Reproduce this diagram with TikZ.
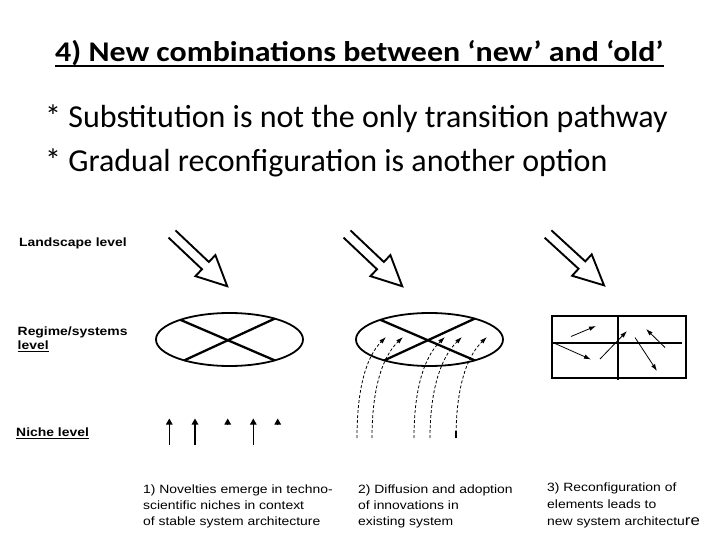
\documentclass[tikz,border=0pt]{standalone}
\usepackage{fontspec}
\setmainfont{Carlito}
\newfontfamily\titlef[FakeStretch=1.12]{Carlito}
\newfontfamily\capf[FakeStretch=1.16]{Liberation Sans}
\usetikzlibrary{shapes.geometric,arrows.meta,calc}
\tikzset{
  lbltext/.style={font=\capf\bfseries\fontsize{12}{14}\selectfont, anchor=base west, inner sep=0},
  captext/.style={font=\capf\fontsize{12}{14}\selectfont, anchor=base west, inner sep=0},
  bullettext/.style={font=\fontsize{32}{36}\selectfont, anchor=base west, inner sep=0},
  hollowline/.style={line width=1.9pt, line join=miter},
  ellnode/.style={draw, ellipse, line width=1.8pt, minimum width=147, minimum height=53, inner sep=0},
  xline/.style={line width=2.3pt},
  dcurve/.style={line width=0.8pt, dash pattern=on 3pt off 2pt, -{Latex[length=7pt,width=4.5pt]}},
  smallarr/.style={line width=0.8pt, -{Latex[length=7pt,width=4.5pt]}},
  nichearr/.style={-{Triangle[length=6pt,width=6.5pt]}},
}
\newcommand\hollowarrow[2]{%
  \begin{scope}[shift={(#1)}, rotate=#2]
    \draw[hollowline] (0,5) -- (46,5) -- (46,14.5) -- (76,0) -- (46,-14.5) -- (46,-5) -- (0,-5);
  \end{scope}}
\begin{document}
\begin{tikzpicture}[x=1pt,y=-1pt]
\useasboundingbox[fill=white] (0,0) rectangle (720,540);

% title and bullets
\node[anchor=base west, inner sep=0, font=\titlef\bfseries\fontsize{28.5}{32}\selectfont] (title) at (55,61.5) {4) New combinations between ‘new’ and ‘old’};
\draw[line width=2pt] ($(title.base west)+(0,4.3)$) -- ($(title.base east)+(0,4.3)$);
\node[bullettext] (b1) at (45,127.5) {* Substitution is not the only transition pathway};
\node[bullettext] (b2) at (45,171.5) {* Gradual reconfiguration is another option};

% level labels
\node[lbltext] (land) at (19,246.5) {Landscape level};
\node[lbltext] (reg1) at (17.5,335) {Regime/systems};
\node[lbltext] (reg2) at (17.5,349.3) {level};
\draw[line width=1.2pt] ($(reg2.base west)+(0,2.3)$) -- ($(reg2.base east)+(0,2.3)$);
\node[lbltext] (niche) at (16,436) {Niche level};
\draw[line width=1.2pt] ($(niche.base west)+(0,2.3)$) -- ($(niche.base east)+(0,2.3)$);

% landscape arrows
\coordinate (A1) at (172,234);
\coordinate (A2) at (347,234);
\coordinate (A3) at (548,234);
\hollowarrow{A1}{-43.4}
\hollowarrow{A2}{-43.4}
\hollowarrow{A3}{-42.5}

% ellipse 1
\node[ellnode] (E1) at (229.5,339.5) {};
\coordinate (E1a) at ($(E1.center)+(128:73.5 and 26.5)$);
\coordinate (E1b) at ($(E1.center)+(308:73.5 and 26.5)$);
\coordinate (E1c) at ($(E1.center)+(52:73.5 and 26.5)$);
\coordinate (E1d) at ($(E1.center)+(228:73.5 and 26.5)$);
\draw[xline] (E1a) -- (E1b);
\draw[xline] (E1c) -- (E1d);

% ellipse 2
\node[ellnode] (E2) at (429.5,339.5) {};
\coordinate (E2a) at ($(E2.center)+(128:73.5 and 26.5)$);
\coordinate (E2b) at ($(E2.center)+(308:73.5 and 26.5)$);
\coordinate (E2c) at ($(E2.center)+(52:73.5 and 26.5)$);
\coordinate (E2d) at ($(E2.center)+(228:73.5 and 26.5)$);
\draw[xline] (E2a) -- (E2b);
\draw[xline] (E2c) -- (E2d);

% diffusion curves
\coordinate (d1s) at (357,438); \coordinate (d1e) at (386,337);
\coordinate (d2s) at (372,438); \coordinate (d2e) at (403,337);
\coordinate (d3s) at (414,438); \coordinate (d3e) at (445,337);
\coordinate (d4s) at (430,438); \coordinate (d4e) at (462,337);
\coordinate (d5s) at (456,438); \coordinate (d5e) at (487,337);
\draw[dcurve] (d1s) .. controls (357,392) and (365,358) .. (d1e);
\draw[dcurve] (d2s) .. controls (372,392) and (381,358) .. (d2e);
\draw[dcurve] (d3s) .. controls (414,392) and (423,358) .. (d3e);
\draw[dcurve] (d4s) .. controls (430,392) and (440,358) .. (d4e);
\draw[dcurve] (d5s) .. controls (456,392) and (465,358) .. (d5e);
\coordinate (d5m) at (456,431);
\draw[line width=1.6pt] (d5s) -- (d5m);

% rectangle 3
\node[draw, line width=2.6pt, minimum width=134, minimum height=62, inner sep=0] (R) at (619,347) {};
\coordinate (Rv1) at (618,316); \coordinate (Rv2) at (618,379.5);
\draw[line width=2.6pt] (Rv1) -- (Rv2);
\coordinate (Rh1) at (553,343); \coordinate (Rh2) at (682,343);
\draw[line width=2pt] (Rh1) -- (Rh2);
\coordinate (s1a) at (571,336.5); \coordinate (s1b) at (596,326);
\coordinate (s2a) at (555,343.5); \coordinate (s2b) at (591,359.5);
\coordinate (s3a) at (600,359); \coordinate (s3b) at (627,331);
\coordinate (s4a) at (635,337.5); \coordinate (s4b) at (657,371);
\coordinate (s5a) at (665,347.5); \coordinate (s5b) at (646,329);
\draw[smallarr] (s1a) -- (s1b);
\draw[smallarr] (s2a) -- (s2b);
\draw[smallarr] (s3a) -- (s3b);
\draw[smallarr] (s4a) -- (s4b);
\draw[smallarr] (s5a) -- (s5b);

% niche arrows
\coordinate (n1b) at (169.3,445); \coordinate (n1t) at (169.3,418.5);
\coordinate (n2b) at (195,445); \coordinate (n2t) at (195,418.5);
\coordinate (n3b) at (227.7,424.5); \coordinate (n3t) at (227.7,418.5);
\coordinate (n4b) at (253.3,445); \coordinate (n4t) at (253.3,418.5);
\coordinate (n5b) at (277.7,424.5); \coordinate (n5t) at (277.7,418.5);
\draw[nichearr, line width=1pt] (n1b) -- (n1t);
\draw[nichearr, line width=2pt] (n2b) -- (n2t);
\draw[nichearr, line width=1pt] (n3b) -- (n3t);
\draw[nichearr, line width=1pt] (n4b) -- (n4t);
\draw[nichearr, line width=1pt] (n5b) -- (n5t);

% captions
\node[captext] (c11) at (143,493.3) {1) Novelties emerge in techno-};
\node[captext] (c12) at (143,509) {scientific niches in context};
\node[captext] (c13) at (143,525) {of stable system architecture};
\node[captext] (c21) at (358,493.3) {2) Diffusion and adoption};
\node[captext] (c22) at (358,509) {of innovations in};
\node[captext] (c23) at (358,525) {existing system};
\node[captext] (c31) at (547,491.7) {3) Reconfiguration of};
\node[captext] (c32) at (547,508) {elements leads to};
\node[captext] (c33) at (547,525) {new system architectu{\fontsize{14.5}{16}\selectfont re}};
\end{tikzpicture}
\end{document}
